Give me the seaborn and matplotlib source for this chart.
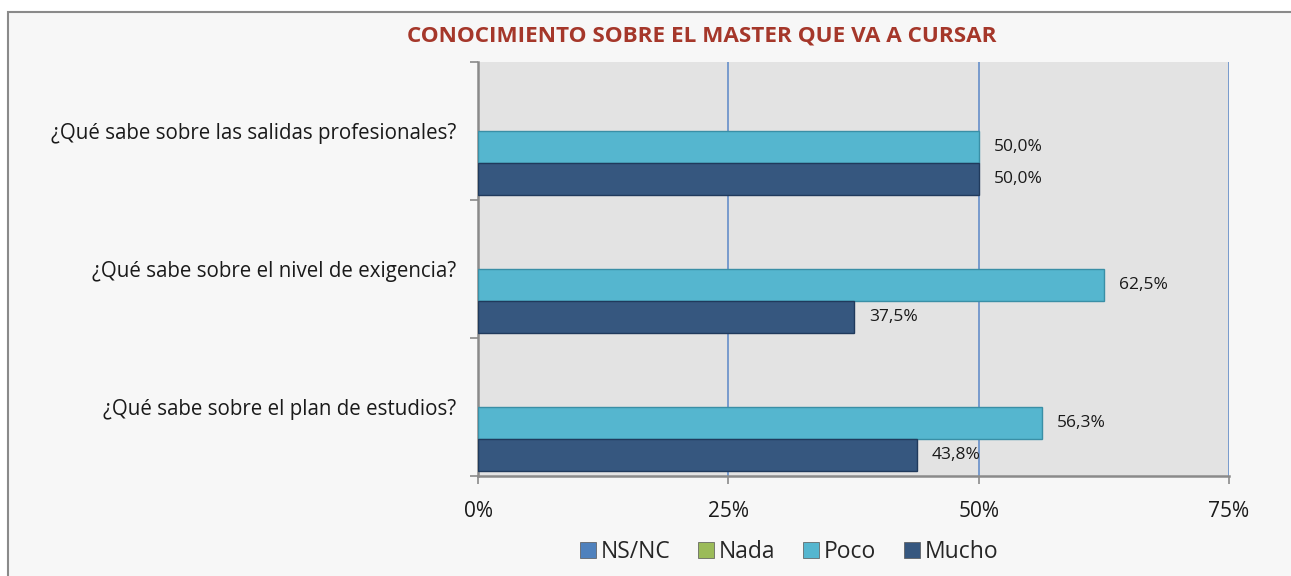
import matplotlib
matplotlib.use("Agg")
import matplotlib.pyplot as plt
import matplotlib.patches as mpatches
import seaborn as sns
import pandas as pd

title = "CONOCIMIENTO SOBRE EL MASTER QUE VA A CURSAR"
categories = ["¿Qué sabe sobre las salidas profesionales?",
              "¿Qué sabe sobre el nivel de exigencia?",
              "¿Qué sabe sobre el plan de estudios?"]
series = ["NS/NC", "Nada", "Poco", "Mucho"]
ns_nc = [0.0, 0.0, 0.0]
nada = [0.0, 0.0, 0.0]
poco = [50.0, 62.5, 56.3]
mucho = [50.0, 37.5, 43.8]
xticks = [0, 25, 50, 75]
xtick_labels = ["0%", "25%", "50%", "75%"]

bar_colors = {"NS/NC": "#4F81BD", "Nada": "#9BBB59", "Poco": "#55B6CF", "Mucho": "#36577F"}
edge_colors = {"Poco": "#3A8FA6", "Mucho": "#203A5C"}

rows = []
for s, vals in zip(series, [ns_nc, nada, poco, mucho]):
    for c, v in zip(categories, vals):
        rows.append({"cat": c, "serie": s, "val": v})
df = pd.DataFrame(rows)

sns.set_theme(style="white")
plt.rcParams["font.family"] = ["Open Sans", "DejaVu Sans"]

fig = plt.figure(figsize=(12.91, 5.76), dpi=100)
fig.patch.set_facecolor("white")
# chart frame
fig.patches.append(mpatches.Rectangle((8 / 1291, -0.05), 1.1, 1 - 12 / 576 + 0.05,
                                      transform=fig.transFigure, facecolor="#F7F7F7",
                                      edgecolor="#8A8A8A", linewidth=1.5, zorder=-10))

ax = fig.add_axes([478 / 1291, 1 - 476 / 576, (1229 - 478) / 1291, (476 - 62) / 576])
sns.barplot(data=df, y="cat", x="val", hue="serie", hue_order=series, order=categories,
            palette=bar_colors, orient="h", width=0.93, ax=ax, legend=False,
            linewidth=0, saturation=1)

ax.set_facecolor("#E3E3E3")
ax.set_xlim(0, 75)
ax.set_ylim(2.5, -0.5)
ax.set_xlabel("")
ax.set_ylabel("")

for s, cont in zip(series, ax.containers):
    for p in cont:
        if p.get_width() > 0:
            p.set_edgecolor(edge_colors.get(s, "none"))
            p.set_linewidth(1.0)
            p.set_zorder(3)
    if s in ("Poco", "Mucho"):
        vals = poco if s == "Poco" else mucho
        ax.bar_label(cont, labels=[f"{v:.1f}".replace(".", ",") + "%" for v in vals],
                     padding=11, fontsize=12.5, color="#1a1a1a")

# gridlines
ax.set_xticks(xticks)
ax.set_xticklabels(xtick_labels, fontsize=15, color="#1a1a1a")
for x in xticks[1:]:
    ax.axvline(x, color="#6F95CB", linewidth=1.3, zorder=1)

ax.set_yticks([0, 1, 2])
ax.set_yticklabels(categories, fontsize=14.8, color="#1a1a1a")
ax.set_yticks([-0.5, 0.5, 1.5, 2.5], minor=True)
ax.tick_params(axis="y", which="major", length=0, pad=16)
ax.tick_params(axis="y", which="minor", length=6, width=1.2, color="#8A8A8A", left=True)
ax.tick_params(axis="x", which="major", length=6, width=1.2, color="#8A8A8A", bottom=True, pad=12)

for side in ["top", "right"]:
    ax.spines[side].set_visible(False)
for side in ["left", "bottom"]:
    ax.spines[side].set_color("#8A8A8A")
    ax.spines[side].set_linewidth(1.8)

fig.text(0.5436, 1 - 36 / 576, title, ha="center", va="center", fontsize=16.2,
         fontweight="bold", color="#A5372A")

handles = [mpatches.Patch(facecolor=bar_colors[s], edgecolor="#555555", linewidth=0.5) for s in series]
fig.legend(handles, series, loc="center", bbox_to_anchor=(789 / 1291, 1 - 552 / 576), ncol=4,
           frameon=False, fontsize=16.5, handlelength=0.72, handleheight=0.72,
           handletextpad=0.2, columnspacing=1.2)

fig.savefig("out.png", dpi=100, facecolor=fig.get_facecolor())
